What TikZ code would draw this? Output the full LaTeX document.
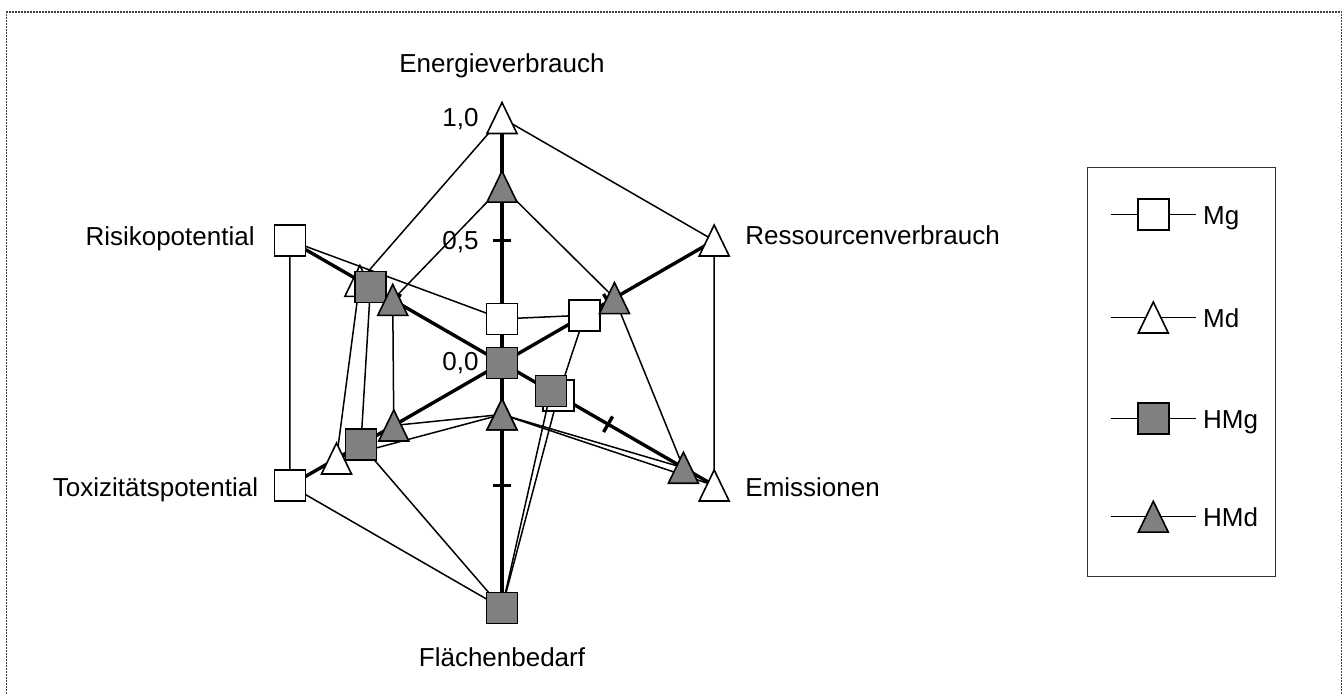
\documentclass[tikz,border=0pt]{standalone}
\usepackage{fontspec}
\setmainfont{Liberation Sans}
\usepackage{tikz}
\usetikzlibrary{positioning}
\usepackage{xcolor}
\definecolor{markgray}{RGB}{128,128,128}

\tikzset{
	frameline/.style={line width=0.65pt,black!75,dash pattern=on 1pt off 0.5pt},
	axisline/.style={line width=1.7pt},
	serie/.style={line width=0.75pt},
	markline/.style={line width=0.8pt,line join=miter},
	legendbox/.style={line width=0.5pt,black!80},
	sqmark/.pic={\draw[markline,fill=#1] (-7.75pt,-7.75pt) rectangle (7.75pt,7.75pt);},
	trimark/.pic={\draw[markline,fill=#1] (0pt,7.75pt) -- (7.5pt,-7.75pt) -- (-7.5pt,-7.75pt) -- cycle;}
}

\begin{document}
\begin{tikzpicture}[x=0.5pt,y=-0.5pt,every node/.style={inner sep=0pt,font=\fontsize{13}{15}\selectfont}]
	\useasboundingbox (0,0) rectangle (1343,694);
	\draw[frameline] (6.7,694) -- (6.7,12) -- (1341.7,12) -- (1341.7,694);
	\coordinate (ctr) at (502,363);

	% axes and ticks
	\begin{scope}[shift={(ctr)},y=0.5pt]
		\foreach \a in {90,30,-30,-90,-150,150} {
			\draw[axisline] (0,0) -- (\a:245);
			\draw[axisline,rotate=\a] (122.5,-9) -- (122.5,9);
		}
		% series
		\foreach \a/\v [count=\i] in {90/0.18,30/0.39,-30/0.265,-90/1.0,-150/1.0,150/1.0}
			\coordinate (mg\i) at ({\a}:{\v*245});
		\foreach \a/\v [count=\i] in {90/1.0,30/1.0,-30/1.0,-90/0.21,-150/0.78,150/0.67}
			\coordinate (md\i) at ({\a}:{\v*245});
		\foreach \a/\v [count=\i] in {90/0.0,30/0.0,-30/0.23,-90/1.0,-150/0.665,150/0.62}
			\coordinate (hmg\i) at ({\a}:{\v*245});
		\foreach \a/\v [count=\i] in {90/0.72,30/0.53,-30/0.855,-90/0.21,-150/0.51,150/0.515}
			\coordinate (hmd\i) at ({\a}:{\v*245});

		\draw[serie] (mg1) -- (mg2) -- (mg3) -- (mg4) -- (mg5) -- (mg6) -- cycle;
		\foreach \i in {1,...,6} \pic at (mg\i) {sqmark=white};
		\draw[serie] (md1) -- (md2) -- (md3) -- (md4) -- (md5) -- (md6) -- cycle;
		\foreach \i in {1,...,6} \pic at (md\i) {trimark=white};
		\draw[serie] (hmg1) -- (hmg2) -- (hmg3) -- (hmg4) -- (hmg5) -- (hmg6) -- cycle;
		\foreach \i in {1,...,6} \pic at (hmg\i) {sqmark=markgray};
		\draw[serie] (hmd1) -- (hmd2) -- (hmd3) -- (hmd4) -- (hmd5) -- (hmd6) -- cycle;
		\foreach \i in {1,...,6} \pic at (hmd\i) {trimark=markgray};
	\end{scope}

	% scale and axis labels
	\node[anchor=base east] (s10) at (479,126.7) {1,0};
	\node[anchor=base east] (s05) at (479,249.5) {0,5};
	\node[anchor=base east] (s00) at (479,370.7) {0,0};
	\node[anchor=base] (energie) at (502,72.7) {Energieverbrauch};
	\node[anchor=base west] (ressourcen) at (745,245) {Ressourcenverbrauch};
	\node[anchor=base west] (emission) at (745,496.7) {Emissionen};
	\node[anchor=base] (flaeche) at (502,666.7) {Flächenbedarf};
	\node[anchor=base east] (toxi) at (258.5,496.7) {Toxizitätspotential};
	\node[anchor=base east] (risiko) at (255,246) {Risikopotential};

	% legend
	\draw[legendbox] (1087.3,167.3) rectangle (1275,576.7);
	\foreach \y/\name/\col in {214.3/Mg/white,418.3/HMg/markgray} {
		\coordinate (l-\name) at (1110.7,\y);
		\coordinate (r-\name) at (1196,\y);
		\draw[serie] (l-\name) -- (r-\name);
		\pic at (1153.3,\y) {sqmark=\col};
		\node[anchor=base west] (t-\name) at (1202.7,\y+10) {\name};
	}
	\foreach \y/\name/\col in {317.5/Md/white,516.7/HMd/markgray} {
		\coordinate (l-\name) at (1110.7,\y);
		\coordinate (r-\name) at (1196,\y);
		\draw[serie] (l-\name) -- (r-\name);
		\pic at (1153.3,\y) {trimark=\col};
		\node[anchor=base west] (t-\name) at (1202.7,\y+10) {\name};
	}
\end{tikzpicture}
\end{document}
